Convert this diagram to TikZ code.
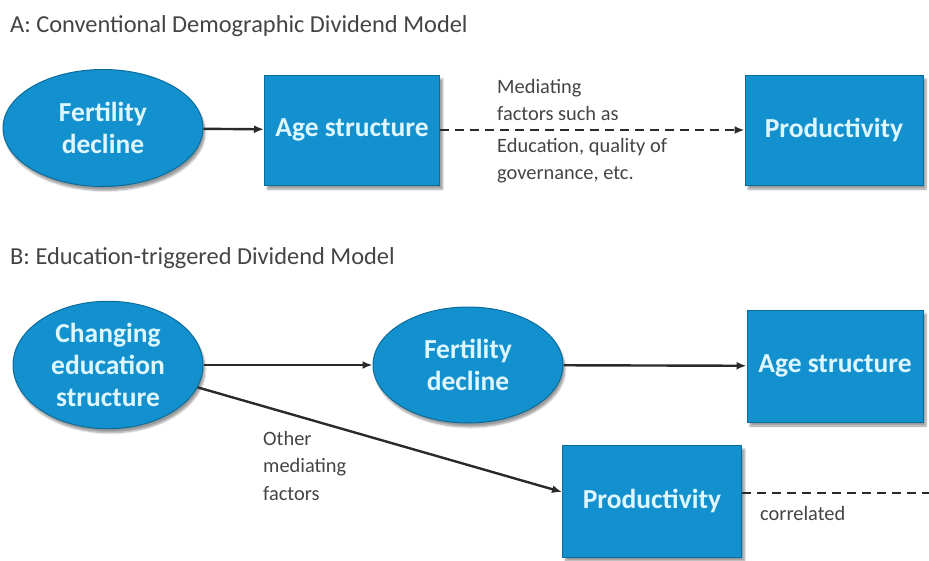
\documentclass[tikz,border=0pt]{standalone}
\usepackage{fontspec}
\setmainfont{Carlito}
\usetikzlibrary{calc}
\usetikzlibrary{positioning}
\usetikzlibrary{shapes.geometric, shadows.blur, arrows.meta}

\definecolor{boxblue}{HTML}{1391CE}
\definecolor{boxedge}{HTML}{0B6C9C}
\definecolor{boxtext}{HTML}{DDF6FF}
\definecolor{linegray}{HTML}{2A2A2A}
\definecolor{titlegray}{HTML}{444444}

\begin{document}
\begin{tikzpicture}[x=1pt, y=-1pt,
        blob/.style={ellipse, fill=boxblue, draw=boxedge, line width=1pt,
            text=boxtext, font=\bfseries\fontsize{27.5}{32}\selectfont, align=center,
            blur shadow={shadow xshift=2pt, shadow yshift=-4pt, shadow blur steps=6, shadow opacity=40}},
        block/.style={rectangle, fill=boxblue, draw=boxedge, line width=1pt,
            text=boxtext, font=\bfseries\fontsize{27.5}{32}\selectfont, align=center,
            blur shadow={shadow xshift=3pt, shadow yshift=-4pt, shadow blur steps=6, shadow opacity=40}},
        note/.style={text=titlegray, font=\fontsize{20.4}{27.5}\selectfont, align=left, inner sep=0pt},
        heading/.style={text=titlegray, font=\fontsize{24.4}{28}\selectfont, anchor=west, inner sep=0pt},
        link/.style={line width=2.4pt, draw=linegray, -{Latex[length=10pt,width=8pt]}},
        dashlink/.style={link, dash pattern=on 9pt off 6pt}
    ]
        \useasboundingbox (0,0) rectangle (929,560);

        % Model A
        \node[heading] (titleA) at (10, 26) {A: Conventional Demographic Dividend Model};

        \node[blob, minimum width=200pt, minimum height=117pt] (fertA) at (103, 128) {Fertility\\decline};
        \node[block, minimum width=175pt, minimum height=110pt] (ageA) at (352, 130) {Age structure};
        \node[block, minimum width=178pt, minimum height=110pt] (prodA) at (834, 130) {Productivity};

        \draw[link] (fertA) -- (ageA);
        \draw[dashlink] (ageA) -- (prodA);

        \node[note, anchor=south west] (medtop) at (497, 121) {Mediating\\factors such as};
        \node[note, anchor=north west] (medbot) at (497, 138) {Education, quality of\\governance, etc.};

        % Model B
        \node[heading] (titleB) at (10, 258) {B: Education-triggered Dividend Model};

        \node[blob, minimum width=190pt, minimum height=115pt] (eduB) at (108, 365) {Changing\\education\\structure};
        \node[blob, minimum width=190pt, minimum height=116pt] (fertB) at (468, 365) {Fertility\\decline};
        \node[block, minimum width=176pt, minimum height=112pt] (ageB) at (835, 366) {Age structure};
        \node[block, minimum width=179pt, minimum height=112pt] (prodB) at (652, 501) {Productivity};
        \coordinate (corrEnd) at (929, 493);

        \draw[link] (eduB) -- (fertB);
        \draw[link] (fertB) -- (ageB);
        \draw[link] (eduB.-14) -- ([yshift=9pt]prodB.west);
        \draw[line width=2.4pt, draw=linegray, dash pattern=on 9pt off 6pt] ([yshift=8pt]prodB.east) -- (corrEnd);

        \node[note, anchor=north west] (other) at (263, 431) {Other\\mediating\\factors};
        \node[note, anchor=north west] (corr) at (760, 506) {correlated};
\end{tikzpicture}
\end{document}
